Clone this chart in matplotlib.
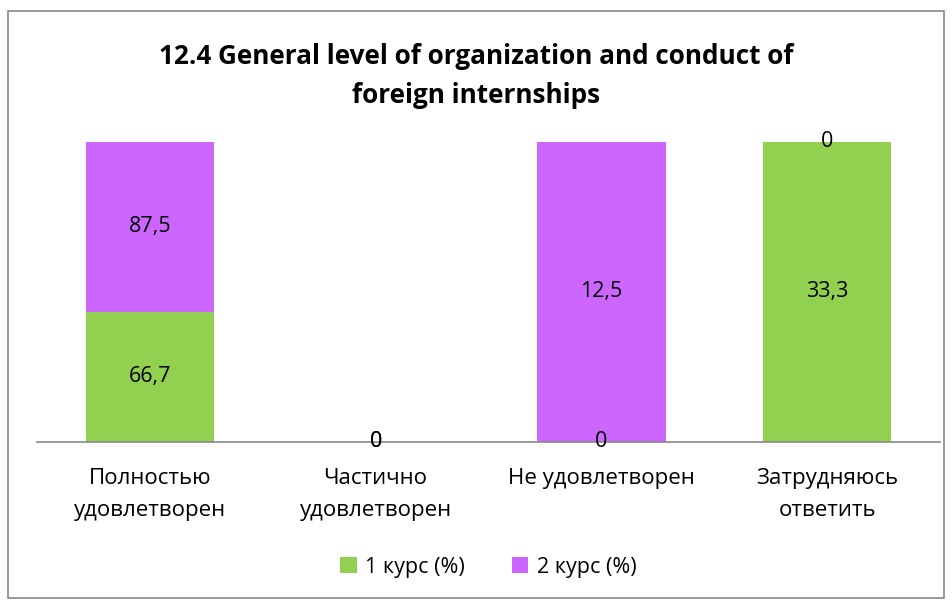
import numpy as np
import matplotlib.pyplot as plt
from matplotlib.patches import Rectangle

plt.rcParams['font.family'] = ['Open Sans', 'DejaVu Sans']

categories = ['Полностью\nудовлетворен', 'Частично\nудовлетворен', 'Не удовлетворен', 'Затрудняюсь\nответить']
series_names = ['1 курс (%)', '2 курс (%)']
kurs1 = [66.7, 0, 0, 33.3]
kurs2 = [87.5, 0, 12.5, 0]
labels1 = ['66,7', '0', '0', '33,3']
labels2 = ['87,5', '0', '12,5', '0']
colors = ['#92D050', '#CC66FF']

k1 = np.array(kurs1)
k2 = np.array(kurs2)
tot = k1 + k2
tot_safe = np.where(tot == 0, 1, tot)
p1 = k1 / tot_safe * 100
p2 = k2 / tot_safe * 100

fig = plt.figure(figsize=(9.53, 6.0), dpi=100)
fig.patches.append(Rectangle((8/953, 1 - 598/600), 936/953, 587/600, transform=fig.transFigure,
                             fill=False, edgecolor='#888888', linewidth=1.2))

ax = fig.add_axes([37/953, 1 - 441.5/600, 903/953, 300/600])
x = np.arange(len(categories))
w = 0.57
ax.bar(x, p1, width=w, color=colors[0], label=series_names[0])
ax.bar(x, p2, width=w, bottom=p1, color=colors[1], label=series_names[1])

for i in range(len(categories)):
    ax.text(x[i], p1[i] / 2, labels1[i], ha='center', va='center', fontsize=15.5)
    ax.text(x[i], p1[i] + p2[i] / 2, labels2[i], ha='center', va='center', fontsize=15.5)

ax.set_xlim(-0.5, len(categories) - 0.5)
ax.set_ylim(0, 100)
ax.set_yticks([])
ax.set_xticks(x)
ax.set_xticklabels(categories, fontsize=16, linespacing=1.7)
ax.tick_params(axis='x', length=0, pad=19)
for s in ['top', 'right', 'left']:
    ax.spines[s].set_visible(False)
ax.spines['bottom'].set_color('#888888')
ax.spines['bottom'].set_linewidth(1.2)

fig.text(0.5, 1 - 76/600, '12.4 General level of organization and conduct of\nforeign internships',
         ha='center', va='center', fontsize=18.8, fontweight='bold', linespacing=1.55)

ax.legend(loc='center', bbox_to_anchor=(0.5, (441.5 - 567) / 300), ncol=2, frameon=False,
          fontsize=15.5, handlelength=0.75, handleheight=0.75, handletextpad=0.4, columnspacing=2.2)

plt.savefig('out.png', dpi=100)
